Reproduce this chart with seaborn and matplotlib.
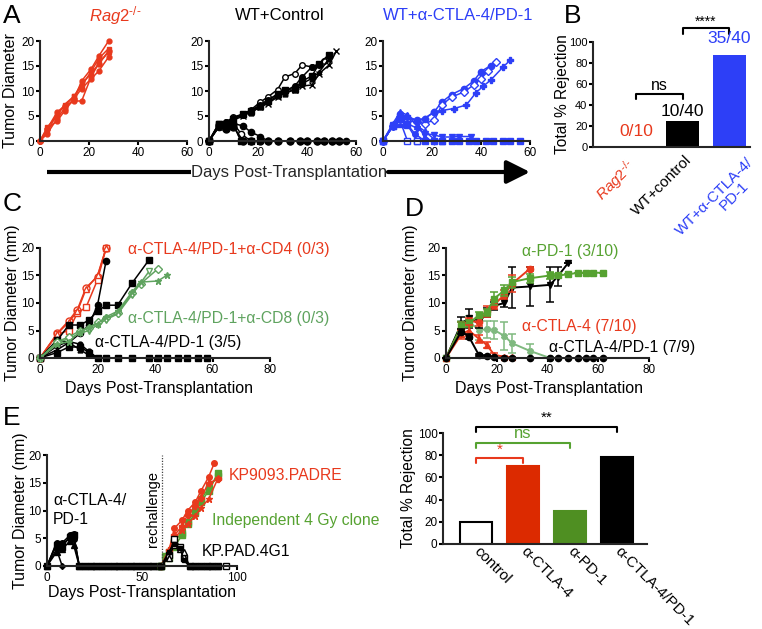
import matplotlib
matplotlib.use('Agg')
import matplotlib.pyplot as plt
import seaborn as sns
import numpy as np
from matplotlib.patches import FancyArrowPatch
from matplotlib.lines import Line2D

# ---------------- DATA ----------------
# Panel A1: Rag2-/- (red)
A1_days = [0, 3, 7, 10, 14, 17, 21, 24, 28]
A1_m1 = [0, 1.5, 4.5, 6.5, 8.5, 12.0, 14.5, 17.0, 20.0]
A1_m2 = [0, 1.8, 5.5, 7.0, 9.0, 11.0, 14.0, 16.5, 18.5]
A1_m3 = [0, 2.5, 5.8, 7.0, 8.0, 8.0, 13.0, 15.5, 18.0]
A1_m4 = [0, 2.5, 4.0, 6.0, 8.5, 10.5, 12.5, 14.0, 16.8]
A1_m5 = [0, 2.8, 5.0, 7.3, 9.0, 11.5, 13.5, 15.5, 17.8]

# Panel A2: WT + Control (black)
A2_g1_days = [0, 4, 7, 10, 14, 17, 21, 24, 28, 31, 35, 38, 42, 45, 47]
A2_g1 = [0, 3.0, 3.8, 4.8, 5.4, 6.2, 7.8, 8.8, 10.3, 12.8, 13.5, 15.2, 14.8, 15.5, 16.0]
A2_g2_days = [0, 4, 7, 10, 14, 17, 21, 24, 28, 31, 35, 38, 42, 45, 49]
A2_g2 = [0, 3.5, 3.2, 4.5, 5.5, 6.0, 7.0, 8.0, 9.5, 10.2, 10.5, 12.0, 13.0, 15.5, 17.3]
A2_g3_days = [0, 4, 7, 10, 14, 17, 21, 24, 28, 31, 35, 38, 42, 45, 49, 52]
A2_g3 = [0, 2.8, 3.5, 4.2, 5.0, 5.8, 6.8, 7.5, 8.8, 9.8, 10.2, 11.0, 11.2, 13.5, 15.2, 18.0]
A2_g4_days = [0, 4, 7, 10, 14, 17, 21, 24, 28, 31, 35, 38, 42, 45]
A2_g4 = [0, 3.0, 3.8, 4.6, 5.2, 6.0, 7.3, 8.2, 9.3, 10.0, 11.0, 12.8, 14.8, 15.3]
A2_g5_days = [0, 4, 7, 10, 14, 17, 21, 24, 28, 31, 35, 38, 42, 45, 49]
A2_g5 = [0, 3.3, 3.6, 4.4, 5.3, 5.7, 6.8, 7.8, 9.0, 9.5, 10.3, 11.5, 12.5, 13.8, 16.5]
A2_r1_days = [0, 4, 7, 10, 13, 17]
A2_r1 = [0, 3.5, 3.0, 3.2, 0, 0]
A2_r2_days = [0, 4, 7, 10, 13, 17]
A2_r2 = [0, 2.8, 3.2, 3.5, 1.5, 0]
A2_r3_days = [0, 4, 7, 10, 14, 17, 21, 24, 28, 33, 37, 40, 44, 47, 50, 53, 56]
A2_r3 = [0, 3.0, 3.3, 3.5, 3.0, 1.8, 0.9, 0, 0, 0, 0, 0, 0, 0, 0, 0, 0]
A2_r4_days = [0, 4, 7, 10, 14, 17, 21, 24, 28, 33, 37, 40, 44, 47, 50, 53]
A2_r4 = [0, 3.2, 2.5, 2.8, 0, 0, 0, 0, 0, 0, 0, 0, 0, 0, 0, 0]

# Panel A3: WT + a-CTLA-4/PD-1 (blue)
A3_g1_days = [0, 4, 7, 10, 14, 17, 21, 24, 28, 33, 37, 40, 44]
A3_g1 = [0, 3.0, 5.5, 4.5, 4.2, 4.5, 5.9, 7.8, 9.3, 10.5, 12.0, 13.9, 15.1]
A3_g2_days = [0, 4, 7, 10, 14, 17, 21, 24, 28, 33, 37, 40, 43, 46]
A3_g2 = [0, 3.0, 4.8, 4.0, 3.8, 3.5, 4.2, 7.2, 8.8, 9.8, 11.2, 12.5, 14.0, 15.8]
A3_g3_days = [0, 4, 7, 10, 14, 17, 21, 24, 29, 34, 38, 41, 44, 49, 52]
A3_g3 = [0, 3.0, 4.5, 5.0, 4.0, 4.5, 5.8, 6.1, 6.5, 7.2, 9.7, 11.0, 12.2, 14.8, 16.2]
A3_r1_days = [0, 4, 7, 10, 14, 17, 21, 24, 28, 31, 35, 38, 42, 45, 49, 52, 56]
A3_r1 = [0, 3.0, 3.5, 3.2, 0, 0, 0, 0, 0, 0, 0, 0, 0, 0, 0, 0, 0]
A3_r2_days = [0, 4, 7, 10, 14]
A3_r2 = [0, 3.0, 4.0, 0, 0]
A3_r3_days = [0, 4, 7, 10, 14, 17, 21, 24, 28, 31, 36]
A3_r3 = [0, 3.2, 4.5, 3.5, 2.5, 1.5, 1.2, 0.8, 0.8, 0.9, 0.9]
A3_r4_days = [0, 4, 7, 10, 14, 17, 21, 24]
A3_r4 = [0, 3.5, 5.8, 5.2, 3.0, 2.0, 0.3, 0]
A3_r5_days = [0, 4, 7, 10, 14, 17, 21]
A3_r5 = [0, 3.0, 5.0, 4.8, 4.0, 0.5, 0]
A3_r6_days = [0, 4, 7, 10, 13, 17, 21, 24, 28]
A3_r6 = [0, 3.0, 4.2, 3.2, 1.5, 0, 0, 0, 0]

# Panel B: total % rejection
B_groups = ['Rag2', 'WT+control', 'WT+aCTLA4/PD1']
B_labels = [r'$\mathit{Rag2}^{\text{-/-}}$', 'WT+control', 'WT+α-CTLA-4/', 'PD-1']
B_values = [0, 25, 87.5]
B_counts = ['0/10', '10/40', '35/40']

# Panel C
C_red_days = [0, 6, 10, 13, 16, 20, 23]
C_red1 = [0, 4.5, 6.8, 8.8, 12.8, 14.8, 20.0]
C_red2 = [0, 4.3, 5.0, 8.2, 9.2, 14.2, 20.0]
C_red3 = [0, 4.4, 6.5, 8.5, 12.5, 15.0, 20.0]
C_blk1_days = [0, 6, 10, 14, 17, 20, 23]
C_blk1 = [0, 3.3, 2.8, 4.5, 6.0, 9.6, 17.7]
C_blk2_days = [0, 6, 10, 14, 17, 20, 23, 27, 32, 38]
C_blk2 = [0, 3.2, 6.0, 6.0, 6.9, 8.5, 9.6, 9.6, 13.6, 17.9]
C_rej_days = [0, 6, 10, 14, 17, 20, 23, 27, 32, 38, 41, 44, 48, 51, 55, 58]
C_rej1 = [0, 1.0, 2.0, 2.0, 1.0, 0, 0, 0, 0, 0, 0, 0, 0, 0, 0, 0]
C_rej2 = [0, 2.2, 3.0, 2.5, 1.2, 0, 0, 0, 0, 0, 0, 0, 0, 0, 0, 0]
C_rej3 = [0, 1.5, 2.8, 1.5, 0.5, 0, 0, 0, 0, 0, 0, 0, 0, 0, 0, 0]
C_grn1_days = [0, 6, 10, 14, 17, 20, 23, 27, 32, 38]
C_grn1 = [0, 2.8, 3.5, 4.5, 5.0, 6.0, 7.0, 8.0, 11.5, 15.8]
C_grn2_days = [0, 6, 10, 14, 17, 20, 23, 27, 32, 35, 41]
C_grn2 = [0, 3.0, 3.8, 5.0, 5.5, 6.5, 7.2, 8.2, 11.8, 13.5, 16.2]
C_grn3_days = [0, 6, 10, 14, 17, 20, 23, 27, 32, 35, 41, 44]
C_grn3 = [0, 2.5, 3.0, 4.8, 5.5, 6.2, 7.5, 8.5, 12.0, 13.8, 14.0, 15.0]

# Panel D: mean +/- SEM
D_ctl_days = [0, 6, 9, 13, 16, 19, 23, 26, 33, 41, 44, 48]
D_ctl_mean = [0, 6.2, 7.2, 6.3, 8.3, 9.5, 10.0, 12.8, 13.0, 13.3, 14.8, 17.2]
D_ctl_err = [0, 1.2, 1.8, 0.8, 0.8, 0.7, 0.8, 3.7, 3.5, 3.2, 1.8, 0]
D_pd1_days = [0, 6, 9, 13, 16, 19, 23, 26, 33, 41, 44, 48, 52, 55, 58, 62]
D_pd1_mean = [0, 5.8, 6.3, 7.8, 8.3, 10.8, 12.3, 13.8, 14.5, 15.0, 15.0, 15.2, 15.5, 15.5, 15.5, 15.5]
D_pd1_err = [0, 0.8, 0.7, 0.5, 0.7, 1.2, 1.0, 1.0, 0.8, 0.6, 0.3, 0, 0, 0, 0, 0]
D_ctla_days = [0, 6, 9, 13, 16, 19, 23, 26, 33]
D_ctla_mean = [0, 5.5, 6.8, 6.5, 8.5, 9.7, 11.5, 13.5, 16.2]
D_ctla_err = [0, 1.0, 0.5, 0.7, 1.0, 0.8, 0.8, 1.5, 0.4]
D_ctlaR_days = [0, 6, 9, 13, 16, 19, 23, 26]
D_ctlaR_mean = [0, 4.3, 5.0, 3.5, 2.4, 0.6, 0.2, 0.1]
D_ctlaR_err = [0, 0.8, 1.0, 0.7, 0.5, 0.3, 0.1, 0]
D_pd1R_days = [0, 6, 9, 13, 16, 19, 23, 26, 33, 41]
D_pd1R_mean = [0, 6.0, 6.6, 5.1, 5.2, 5.1, 4.0, 2.7, 1.3, 0]
D_pd1R_err = [0, 0.8, 1.0, 1.8, 1.5, 1.6, 2.5, 1.7, 1.3, 0]
D_combo_days = [0, 6, 9, 13, 16, 19, 23, 26, 33, 41, 44, 48, 52, 55, 58, 62]
D_combo_mean = [0, 4.8, 3.9, 0.5, 0.4, 0.1, 0, 0, 0, 0, 0, 0, 0, 0, 0, 0]
D_combo_err = [0, 0.5, 0.5, 0.2, 0.2, 0, 0, 0, 0, 0, 0, 0, 0, 0, 0, 0]

# Panel E (curves)
E_p1_days = [0, 5, 8, 12, 14, 17, 20, 23, 26, 29, 32, 35, 38, 41, 44, 47, 50, 53, 56, 59]
E_p1_m1 = [0, 4.2, 4.0, 5.0, 5.8, 0, 0, 0, 0, 0, 0, 0, 0, 0, 0, 0, 0, 0, 0, 0]
E_p1_m2 = [0, 3.8, 3.5, 5.2, 5.5, 0, 0, 0, 0, 0, 0, 0, 0, 0, 0, 0, 0, 0, 0, 0]
E_p1_m3 = [0, 2.5, 3.0, 4.5, 3.8, 0, 0, 0, 0, 0, 0, 0, 0, 0, 0, 0, 0, 0, 0, 0]
E_p1_m4 = [0, 4.0, 4.2, 5.5, 4.8, 0, 0, 0, 0, 0, 0, 0, 0, 0, 0, 0, 0, 0, 0, 0]
E_p1_m5_days = [0, 5, 8]
E_p1_m5 = [0, 3.0, 0]
E_red_days1 = [60, 64, 67, 71, 74, 78, 81, 85, 88]
E_red1 = [0, 2.5, 6.8, 8.2, 10.0, 11.5, 13.5, 16.0, 18.5]
E_red_days2 = [60, 64, 67, 71, 74, 78, 81, 85, 90]
E_red2 = [0, 2.8, 5.5, 7.2, 9.2, 10.8, 12.2, 15.0, 15.6]
E_red3 = [0, 1.5, 5.0, 6.5, 7.5, 9.0, 10.5, 12.0, 15.8]
E_grn_days1 = [60, 62, 64, 67, 71, 74, 78, 81, 85, 90]
E_grn1 = [0, 1.8, 2.5, 4.5, 6.0, 7.5, 9.5, 11.5, 13.5, 16.8]
E_grn_days2 = [60, 64, 67, 71, 74, 78, 81, 85, 90]
E_grn2 = [0, 1.5, 3.5, 5.5, 8.0, 10.0, 12.0, 14.0, 16.2]
E_blk_days1 = [60, 64, 67, 70, 72, 75, 78, 81, 84, 87, 90, 94]
E_blk1 = [0, 2.0, 4.8, 3.5, 1.5, 0, 0, 0, 0, 0, 0, 0]
E_blk_days2 = [60, 64, 67, 70, 72, 75, 78, 81, 84, 87, 90]
E_blk2 = [0, 1.5, 3.8, 3.0, 2.5, 0, 0, 0, 0, 0, 0]
E_blk3 = [0, 2.5, 4.0, 3.3, 1.0, 0, 0, 0, 0, 0, 0]
E_rechallenge_day = 60.5

# Panel E (bars)
Eb_groups = ['control', 'α-CTLA-4', 'α-PD-1', 'α-CTLA-4/PD-1']
Eb_values = [20, 70, 30, 78]

# ---------------- STYLE ----------------
RED = '#e8391d'
RED_BAR = '#dc2a00'
BLUE = '#2d3ff7'
GREEN = '#56a231'
GREEN_C = '#5fa35f'
GREEN_L = '#7fb97f'
GREEN_BAR = '#4f8f22'
BLACK = '#000000'

sns.set_theme(style='ticks')
plt.rcParams['font.family'] = ['Liberation Sans', 'DejaVu Sans']
plt.rcParams['mathtext.fontset'] = 'custom'
plt.rcParams['mathtext.rm'] = 'Liberation Sans'
plt.rcParams['mathtext.it'] = 'Liberation Sans:italic'
plt.rcParams['axes.linewidth'] = 1.5

W, H = 762, 629
fig = plt.figure(figsize=(W / 100, H / 100), dpi=100)
fig.patch.set_facecolor('white')


def fx(x):
    return x / W


def fy(y):
    return 1 - y / H


def add_ax(l, r, t, b):
    ax = fig.add_axes([l / W, 1 - b / H, (r - l) / W, (b - t) / H])
    ax.set_facecolor('none')
    return ax


def style(ax, xlim, ylim, xticks, yticks, labelsize=8.5):
    ax.set_xlim(*xlim)
    ax.set_ylim(*ylim)
    ax.set_xticks(xticks)
    ax.set_yticks(yticks)
    sns.despine(ax=ax)
    for s in ['left', 'bottom']:
        ax.spines[s].set_linewidth(1.5)
    ax.tick_params(direction='out', length=3, width=1.5, labelsize=labelsize, pad=1.0, colors='black')
    ax.set_xlabel('')
    ax.set_ylabel('')


def mouse(ax, days, vals, color, marker='o', open_=False, ms=4.0, lw=1.1):
    sns.lineplot(x=days, y=vals, ax=ax, color=color, marker=marker, markersize=ms,
                 linewidth=lw, markerfacecolor=('white' if open_ else color),
                 markeredgecolor=color, markeredgewidth=1.0, estimator=None,
                 sort=False, clip_on=False)


def set_ylab(ax, text, left_px, l, r, size=11.5):
    # y-label anchor is the right (descent) side of the rotated text
    ax.set_ylabel(text, fontsize=size, color='black')
    ax.yaxis.set_label_coords((left_px + 15 - l) / (r - l), 0.5)


def set_xlab(ax, text, cx, top_px, l, r, t, b, size=11.5):
    ax.set_xlabel(text, fontsize=size, color='black')
    ax.xaxis.set_label_coords((cx - l) / (r - l), (b - top_px) / (b - t))


# ---------------- PANEL A ----------------
axA1 = add_ax(40, 187, 41, 141)
for vals, mk in zip([A1_m1, A1_m2, A1_m3, A1_m4, A1_m5], ['o', 's', 'o', 'o', 's']):
    mouse(axA1, A1_days, vals, RED, mk, ms=3.5)
style(axA1, (0, 60), (0, 20), [0, 20, 40, 60], [0, 5, 10, 15, 20])
set_ylab(axA1, 'Tumor Diameter', 3, 40, 187)

axA2 = add_ax(209, 356, 41, 141)
mouse(axA2, A2_g1_days, A2_g1, BLACK, 'o', open_=True, ms=4)
mouse(axA2, A2_g2_days, A2_g2, BLACK, 's', ms=4.5)
mouse(axA2, A2_g3_days, A2_g3, BLACK, 'x', ms=5)
mouse(axA2, A2_g4_days, A2_g4, BLACK, 'o', ms=4)
mouse(axA2, A2_g5_days, A2_g5, BLACK, '^', ms=3.5)
mouse(axA2, A2_r1_days, A2_r1, BLACK, 's', ms=4.5)
mouse(axA2, A2_r2_days, A2_r2, BLACK, 'o', open_=True, ms=4.5)
mouse(axA2, A2_r3_days, A2_r3, BLACK, 'o', ms=4.5)
mouse(axA2, A2_r4_days, A2_r4, BLACK, 'o', ms=5)
style(axA2, (0, 60), (0, 20), [0, 20, 40, 60], [0, 5, 10, 15, 20])

axA3 = add_ax(383, 530, 41, 141)
mouse(axA3, A3_g1_days, A3_g1, BLUE, 'o', ms=4.5)
mouse(axA3, A3_g2_days, A3_g2, BLUE, 'D', open_=True, ms=4)
mouse(axA3, A3_g3_days, A3_g3, BLUE, 'P', ms=4)
mouse(axA3, A3_r1_days, A3_r1, BLUE, 's', ms=4.5)
mouse(axA3, A3_r2_days, A3_r2, BLUE, 's', open_=True, ms=4.5)
mouse(axA3, A3_r3_days, A3_r3, BLUE, 'v', ms=4.5)
mouse(axA3, A3_r4_days, A3_r4, BLUE, '^', ms=4)
mouse(axA3, A3_r5_days, A3_r5, BLUE, 'D', ms=3.5)
mouse(axA3, A3_r6_days, A3_r6, BLUE, 'o', ms=4)
style(axA3, (0, 60), (0, 20), [0, 20, 40, 60], [0, 5, 10, 15, 20])

fig.text(fx(115), fy(16), B_labels[0], color=RED, fontsize=12, ha='center', va='center')
fig.text(fx(280), fy(16), 'WT+Control', color='black', fontsize=12, ha='center', va='center')
fig.text(fx(458), fy(16), 'WT+α-CTLA-4/PD-1', color=BLUE, fontsize=12, ha='center', va='center')

# shared x label with arrow
fig.text(fx(289), fy(172), 'Days Post-Transplantation', fontsize=12, ha='center', va='center')
fig.add_artist(Line2D([fx(47), fx(191)], [fy(172), fy(172)], color='black', lw=3, solid_capstyle='butt'))
fig.add_artist(FancyArrowPatch((fx(388), fy(172)), (fx(530), fy(172)), transform=fig.transFigure,
                               arrowstyle='-|>,head_length=1.4,head_width=0.7', mutation_scale=10,
                               color='black', lw=3, shrinkA=0, shrinkB=0))

# ---------------- PANEL B ----------------
axB = add_ax(593, 750, 42, 147)
sns.barplot(x=B_groups, y=B_values, ax=axB, palette=[RED, BLACK, BLUE], hue=B_groups,
            legend=False, width=0.71, saturation=1, edgecolor='none')
style(axB, (-0.93, 2.45), (0, 100), [0, 1, 2], [0, 20, 40, 60, 80, 100], labelsize=8)
axB.tick_params(axis='x', length=0)
axB.set_xticklabels([])
set_ylab(axB, 'Total % Rejection', 555, 593, 750, size=11.2)
for txt, col, (px_, py_) in zip(B_labels, [RED, BLACK, BLUE, BLUE],
                                [(633, 164), (689, 158), (751, 160), (746, 184)]):
    fig.text(fx(px_), fy(py_), txt, color=col, fontsize=11, rotation=45, ha='right',
             va='center', rotation_mode='anchor')
for i, (txt, col, yy) in enumerate(zip(B_counts, [RED, BLACK, BLUE], [15, 34, 103])):
    axB.text(i, yy, txt, color=col, fontsize=12.5, ha='center', va='center', clip_on=False)


def bracket(ax, x0, x1, y, drop, label, color, ty, size=11):
    ax.plot([x0, x0, x1, x1], [y - drop, y, y, y - drop], color=color, lw=1.5, clip_on=False)
    ax.text((x0 + x1) / 2, ty, label, color=color, fontsize=size, ha='center', va='center', clip_on=False)


bracket(axB, 0, 1, 50.5, 4.8, 'ns', BLACK, 59, 11.5)
bracket(axB, 1, 2, 113, 5, '****', BLACK, 119, 10)

# ---------------- PANEL C ----------------
axC = add_ax(40, 270, 248, 358)
mouse(axC, C_red_days, C_red1, RED, 'o', open_=True, ms=5)
mouse(axC, C_red_days, C_red2, RED, 's', open_=True, ms=5)
mouse(axC, C_red_days, C_red3, RED, '^', open_=True, ms=4.5)
mouse(axC, C_blk1_days, C_blk1, BLACK, 'o', ms=4.5)
mouse(axC, C_blk2_days, C_blk2, BLACK, 's', ms=5)
mouse(axC, C_rej_days, C_rej1, BLACK, 's', ms=4)
mouse(axC, C_rej_days, C_rej2, BLACK, 'o', ms=3.5)
mouse(axC, C_rej_days, C_rej3, BLACK, '^', ms=3.5)
mouse(axC, C_grn1_days, C_grn1, GREEN_C, 'v', open_=True, ms=5)
mouse(axC, C_grn2_days, C_grn2, GREEN_C, 'D', open_=True, ms=4)
mouse(axC, C_grn3_days, C_grn3, GREEN_C, '*', ms=5)
style(axC, (0, 80), (0, 20), [0, 20, 40, 60, 80], [0, 5, 10, 15, 20])
set_ylab(axC, 'Tumor Diameter (mm)', 5, 40, 270)
set_xlab(axC, 'Days Post-Transplantation', 159, 381, 40, 270, 248, 358)
fig.text(fx(229), fy(250), 'α-CTLA-4/PD-1+α-CD4 (0/3)', color=RED, fontsize=11.3, ha='center', va='center')
fig.text(fx(229), fy(319), 'α-CTLA-4/PD-1+α-CD8 (0/3)', color=GREEN_C, fontsize=11.3, ha='center', va='center')
fig.text(fx(168), fy(343), 'α-CTLA-4/PD-1 (3/5)', color=BLACK, fontsize=11.3, ha='center', va='center')

# ---------------- PANEL D ----------------
axD = add_ax(446, 649, 248, 358)


def mean_err(ax, days, mean, err, color, marker, ms=4.5):
    ax.errorbar(days, mean, yerr=err, fmt='none', ecolor=color, elinewidth=1.1,
                capsize=3, capthick=1.1, clip_on=False)
    mouse(ax, days, mean, color, marker, ms=ms, lw=1.4)


mean_err(axD, D_pd1R_days, D_pd1R_mean, D_pd1R_err, GREEN_L, 'X', ms=4)
mean_err(axD, D_ctl_days, D_ctl_mean, D_ctl_err, BLACK, 'v', ms=4)
mean_err(axD, D_ctla_days, D_ctla_mean, D_ctla_err, RED, 'o', ms=4.5)
mean_err(axD, D_pd1_days, D_pd1_mean, D_pd1_err, GREEN, 's', ms=4.5)
mean_err(axD, D_ctlaR_days, D_ctlaR_mean, D_ctlaR_err, RED, '^', ms=4)
mean_err(axD, D_combo_days, D_combo_mean, D_combo_err, BLACK, 'o', ms=4.5)
style(axD, (0, 80), (0, 20), [0, 20, 40, 60, 80], [0, 5, 10, 15, 20])
set_ylab(axD, 'Tumor Diameter (mm)', 403, 446, 649)
set_xlab(axD, 'Days Post-Transplantation', 549, 381, 446, 649, 248, 358)
fig.text(fx(570), fy(251), 'α-PD-1 (3/10)', color=GREEN, fontsize=11.3, ha='center', va='center')
fig.text(fx(579), fy(327), 'α-CTLA-4 (7/10)', color=RED, fontsize=11.3, ha='center', va='center')
fig.text(fx(622), fy(348), 'α-CTLA-4/PD-1 (7/9)', color=BLACK, fontsize=11.3, ha='center', va='center')

# ---------------- PANEL E (curves) ----------------
axE = add_ax(47, 237, 455, 566)
for vals, mk in zip([E_p1_m1, E_p1_m2, E_p1_m3, E_p1_m4], ['o', 's', '^', 'o']):
    mouse(axE, E_p1_days, vals, BLACK, mk, ms=4)
mouse(axE, E_p1_m5_days, E_p1_m5, BLACK, 'D', ms=3)
mouse(axE, E_grn_days1, E_grn1, GREEN, 's', ms=4.5)
mouse(axE, E_grn_days2, E_grn2, GREEN, 's', ms=4)
mouse(axE, E_red_days1, E_red1, RED, 'o', ms=4)
mouse(axE, E_red_days2, E_red2, RED, 'P', ms=4)
mouse(axE, E_red_days2, E_red3, RED, '*', ms=4.5)
mouse(axE, E_blk_days1, E_blk1, BLACK, 's', open_=True, ms=4)
mouse(axE, E_blk_days2, E_blk2, BLACK, '^', open_=True, ms=4)
mouse(axE, E_blk_days2, E_blk3, BLACK, 's', ms=3.5)
axE.axvline(E_rechallenge_day, ymin=0, ymax=1, color='#444444', lw=0.9, ls=(0, (1, 1.2)))
style(axE, (0, 100), (0, 20), [0, 50, 100], [0, 5, 10, 15, 20])
set_ylab(axE, 'Tumor Diameter (mm)', 13, 47, 237)
set_xlab(axE, 'Days Post-Transplantation', 142, 585, 47, 237, 455, 566)
fig.text(fx(53), fy(510), 'α-CTLA-4/\nPD-1', color=BLACK, fontsize=11.3, ha='left', va='center', linespacing=1.35)
fig.text(fx(153), fy(509), 'rechallenge', color=BLACK, fontsize=10.5, rotation=90, ha='center', va='center')
fig.text(fx(286), fy(476), 'KP9093.PADRE', color=RED, fontsize=11.3, ha='center', va='center')
fig.text(fx(212), fy(521), 'Independent 4 Gy clone', color=GREEN, fontsize=11.3, ha='left', va='center')
fig.text(fx(202), fy(551), 'KP.PAD.4G1', color=BLACK, fontsize=11.3, ha='left', va='center')

# ---------------- PANEL E (bars) ----------------
axEb = add_ax(443, 647, 433, 544)
sns.barplot(x=Eb_groups, y=Eb_values, ax=axEb, hue=Eb_groups, legend=False,
            palette=['white', RED_BAR, GREEN_BAR, BLACK], width=0.68, saturation=1,
            edgecolor='black', linewidth=1.5)
for p, ec in zip(axEb.patches, ['black', RED_BAR, GREEN_BAR, 'black']):
    p.set_edgecolor(ec)
style(axEb, (-0.70, 3.64), (0, 100), [0, 1, 2, 3], [0, 20, 40, 60, 80, 100])
axEb.tick_params(axis='x', length=0, pad=4)
set_ylab(axEb, 'Total % Rejection', 401, 443, 647, size=11.2)
for lab in axEb.get_xticklabels():
    lab.set_fontsize(11)
    lab.set_rotation(-45)
    lab.set_ha('left')
    lab.set_va('center')
    lab.set_rotation_mode('anchor')
bracket(axEb, 0, 3, 105.5, 5, '**', BLACK, 114, 11)
bracket(axEb, 0, 2, 91.3, 4.8, 'ns', GREEN, 100, 12)
bracket(axEb, 0, 1, 77.5, 4.5, '*', RED, 84.5, 11)

# ---------------- panel letters ----------------
for letter, (x, y) in zip('ABCDE', [(12, 16), (573, 16), (12, 204), (414, 209), (12, 418)]):
    fig.text(fx(x), fy(y), letter, fontsize=19, ha='center', va='center', color='black')

fig.savefig('out.png', dpi=100, facecolor='white')
